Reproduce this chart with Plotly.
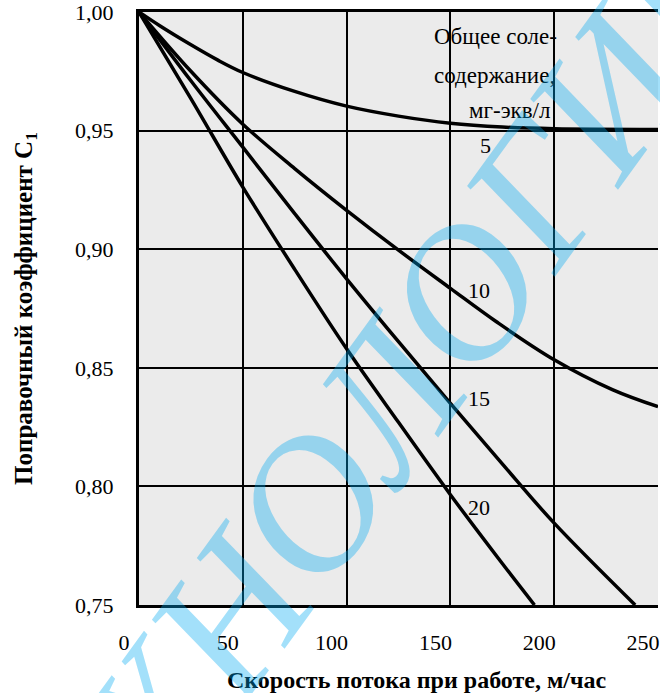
import plotly.graph_objects as go

# Скорость потока, м/час  и поправочный коэффициент C1 для разного солесодержания
x5 = [0, 10, 24, 38, 50, 75, 100, 125, 150, 175, 200, 250]
y5 = [1.0, 0.9942, 0.9867, 0.9797, 0.9745, 0.9665, 0.9603, 0.9561, 0.9531, 0.9515, 0.9508, 0.9505]

x10 = [0, 25, 50, 75, 100, 125, 150, 172, 200, 228, 250]
y10 = [1.0, 0.975, 0.9527, 0.934, 0.9164, 0.8996, 0.8835, 0.8695, 0.8534, 0.8408, 0.8336]

x15 = [0, 25, 50, 75, 100, 125, 150, 175, 200, 239]
y15 = [1.0, 0.971, 0.943, 0.915, 0.8875, 0.861, 0.835, 0.8095, 0.7845, 0.75]

x20 = [0, 25, 50, 75, 100, 125, 150, 175, 190.5]
y20 = [1.0, 0.9635, 0.9262, 0.8915, 0.858, 0.827, 0.7965, 0.7675, 0.75]

curve_names = ["5", "10", "15", "20"]
label_x = [167, 164, 164, 164]
label_y = [0.9436, 0.8826, 0.8371, 0.7912]

x_ticks = [0, 50, 100, 150, 200, 250]
y_ticks = [0.75, 0.80, 0.85, 0.90, 0.95, 1.00]

legend_lines = ["Общее соле-", "содержание,", "мг-экв/л"]
legend_x = [141, 141, 158]
legend_y = [0.9895, 0.9731, 0.9583]

x_title = "Скорость потока при работе, м/час"
y_title = "Поправочный коэффициент C<sub>1</sub>"
watermark = "ТЕХНОЛОГИИ"

FONT = "Liberation Serif"

fig = go.Figure()
for xs, ys, nm in zip([x5, x10, x15, x20], [y5, y10, y15, y20], curve_names):
    fig.add_trace(go.Scatter(
        x=xs, y=ys, mode="lines", name=nm,
        line=dict(color="black", width=3.5, shape="spline", smoothing=1.0),
        showlegend=False, hoverinfo="skip"))

annotations = []
for t, lx, ly in zip(curve_names, label_x, label_y):
    annotations.append(dict(x=lx, y=ly, xref="x", yref="y", text=t, showarrow=False,
                            font=dict(family=FONT, size=22, color="black"),
                            xanchor="center", yanchor="middle"))
for t, lx, ly in zip(legend_lines, legend_x, legend_y):
    annotations.append(dict(x=lx, y=ly, xref="x", yref="y", text=t, showarrow=False,
                            font=dict(family=FONT, size=23, color="black"),
                            xanchor="left", yanchor="middle"))
annotations.append(dict(x=0.534, y=-0.126, xref="paper", yref="paper",
                        text="<b>" + x_title + "</b>", showarrow=False,
                        font=dict(family=FONT, size=24, color="black"),
                        xanchor="center", yanchor="middle"))
annotations.append(dict(x=0.43, y=0.29, xref="paper", yref="paper",
                        text="<i>" + watermark + "</i>", showarrow=False, textangle=-54,
                        font=dict(family=FONT, size=190, color="rgba(0,170,240,0.36)"),
                        xanchor="center", yanchor="middle"))

fig.update_layout(
    width=660, height=693,
    margin=dict(l=139, r=0, t=11, b=88),
    paper_bgcolor="white", plot_bgcolor="#EBEBEB",
    separators=", ",
    annotations=annotations,
    font=dict(family=FONT, color="black"),
)
fig.update_xaxes(
    range=[0, 250], tickvals=x_ticks, ticktext=[str(v) for v in x_ticks],
    showgrid=True, gridcolor="black", gridwidth=2,
    showline=True, linecolor="black", linewidth=3, mirror=True,
    zeroline=False, ticks="",
    ticklabelstandoff=16, ticklabelshift=-15, ticklabeloverflow="allow",
    tickfont=dict(family=FONT, size=22, color="black"),
)
fig.update_yaxes(
    range=[0.75, 1.0], tickvals=y_ticks, tickformat=".2f",
    showgrid=True, gridcolor="black", gridwidth=2,
    showline=True, linecolor="black", linewidth=3, mirror=False,
    zeroline=False, ticks="",
    ticklabelstandoff=18, ticklabeloverflow="allow",
    tickfont=dict(family=FONT, size=22, color="black"),
    title=dict(text="<b>" + y_title + "</b>",
               font=dict(family=FONT, size=25, color="black"), standoff=36),
)

fig.write_html("out.html")
